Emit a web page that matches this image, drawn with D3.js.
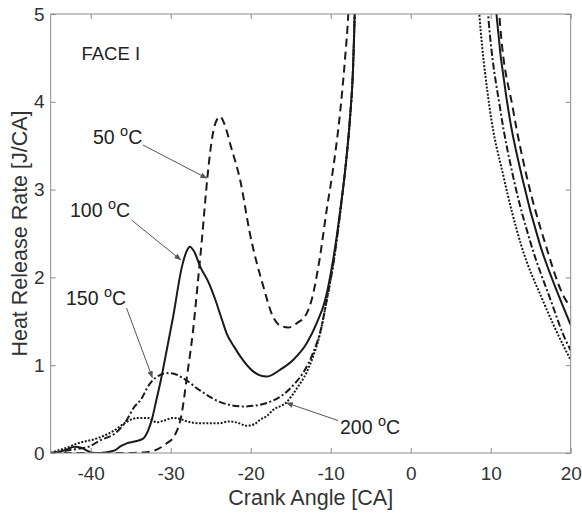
<!DOCTYPE html>
<html>
<head>
<meta charset="utf-8">
<script src="https://cdn.jsdelivr.net/npm/d3@7"></script>
<style>
  html, body { margin: 0; padding: 0; background: #fff; }
  svg { display: block; font-family: "Liberation Sans", Arial, Helvetica, sans-serif; }
</style>
</head>
<body>
<svg id="chart" width="582" height="513"></svg>
<script>
// Heat release rate vs crank angle, FACE I fuel at four intake temperatures.
// Each series is split into a pre-TDC branch and a post-TDC branch; the
// main combustion peak in between runs far above the plotted range.

const xTicks = [-40, -30, -20, -10, 0, 10, 20];
const yTicks = [0, 1, 2, 3, 4, 5];

// 50 °C (dashed)
const t50Before = [[-45,0],[-40,0],[-35.5,0],[-33,0.01],[-31.5,0.05],[-30.5,0.11],[-29.5,0.2],[-28.6,0.46],
  [-28.0,0.85],[-27.2,1.4],[-26.6,1.95],[-26.1,2.43],[-25.4,3.15],[-24.8,3.6],[-24.2,3.8],[-23.8,3.83],
  [-23.3,3.75],[-22.5,3.5],[-21.3,3.1],[-20.1,2.5],[-18.4,1.89],[-17.2,1.55],[-16.3,1.45],[-15.3,1.43],
  [-14.2,1.48],[-13.0,1.59],[-12.4,1.74],[-11.4,2.2],[-10.5,2.77],[-9.6,3.3],[-8.8,3.9],[-8.2,4.5],
  [-7.8,5.0],[-7.6,5.4]];
const t50After = [[10.8,5.4],[11.1,4.97],[12.8,3.91],[14.5,3.15],[16.8,2.39],[19.2,1.77],[20,1.66]];

// 100 °C (solid)
const t100Before = [[-45,0],[-44,0.01],[-43,0.04],[-42,0.07],[-41.2,0.06],[-40.3,0.02],[-39.5,0],[-38,0.01],
  [-37,0.03],[-36.2,0.08],[-35.5,0.11],[-34.5,0.13],[-33.5,0.16],[-32.8,0.26],[-32.3,0.4],[-31.8,0.6],
  [-31.3,0.8],[-30.5,1.17],[-29.7,1.55],[-28.6,2.12],[-28.0,2.3],[-27.6,2.35],[-27.1,2.3],[-26.3,2.12],
  [-25.2,1.93],[-24.4,1.74],[-23.6,1.52],[-23.0,1.36],[-22.0,1.2],[-21.3,1.1],[-19.7,0.93],[-18.0,0.87],
  [-16.3,0.95],[-14.7,1.06],[-13.0,1.25],[-11.75,1.48],[-10.7,1.74],[-9.7,2.2],[-8.8,2.77],[-8.1,3.3],
  [-7.6,3.8],[-7.2,4.4],[-7.0,5.0],[-6.9,5.4]];
const t100After = [[10.4,5.4],[10.75,4.97],[12.2,3.91],[13.9,3.15],[16.1,2.39],[18.6,1.77],[20,1.46]];

// 150 °C (dash-dot)
const t150Before = [[-45,0],[-44,0.01],[-42.8,0.03],[-41.5,0.05],[-40.3,0.07],[-38.7,0.15],[-37,0.22],
  [-35.75,0.34],[-34.5,0.53],[-33.8,0.6],[-32.6,0.79],[-31.3,0.89],[-30.5,0.91],[-29.5,0.9],[-28.4,0.85],
  [-26.3,0.71],[-23.8,0.58],[-20.9,0.53],[-18.0,0.57],[-16.0,0.66],[-14.5,0.79],[-13.4,0.92],[-12.2,1.14],
  [-11.2,1.42],[-10.5,1.74],[-9.6,2.2],[-8.8,2.75],[-8.1,3.3],[-7.6,3.8],[-7.2,4.4],[-7.0,5.0],[-6.9,5.4]];
const t150After = [[9.35,5.4],[9.7,4.97],[11.2,3.91],[12.8,3.15],[15.0,2.39],[17.5,1.74],[19.3,1.3],[20,1.17]];

// 200 °C (dotted)
const t200Before = [[-45,0],[-44.7,0.01],[-43,0.06],[-41.6,0.11],[-39.1,0.17],[-37,0.26],[-35.75,0.34],
  [-34.7,0.39],[-34.1,0.4],[-32.8,0.4],[-31.75,0.35],[-30.8,0.37],[-29.7,0.4],[-28.9,0.39],[-28.0,0.36],
  [-26.5,0.34],[-25.5,0.34],[-24,0.34],[-22.6,0.36],[-21.5,0.34],[-20.5,0.31],[-19.5,0.33],[-18.8,0.38],
  [-18,0.42],[-17.2,0.49],[-15.5,0.58],[-14.2,0.74],[-13,0.92],[-12.2,1.1],[-11.3,1.37],[-10.5,1.74],
  [-9.6,2.2],[-8.8,2.75],[-8.1,3.3],[-7.6,3.8],[-7.2,4.4],[-7.0,5.0],[-6.9,5.4]];
const t200After = [[8.25,5.4],[8.6,4.97],[9.9,3.91],[11.6,3.15],[13.8,2.37],[16.5,1.74],[19.1,1.22],[20,1.06]];

const seriesNames = ["50 °C", "100 °C", "150 °C", "200 °C"];
const seriesDash = ["8,5", null, "7,2.5,2,2.5", "2,1.6"];
const seriesBranches = [[t50Before, t50After], [t100Before, t100After], [t150Before, t150After], [t200Before, t200After]];

const svg = d3.select("#chart");
const W = 582, H = 513;
const plotL = 50.7, plotR = 570.7, plotT = 14, plotB = 453;

const x = d3.scaleLinear().domain([-45, 20]).range([plotL, plotR]);
const y = d3.scaleLinear().domain([0, 5]).range([plotB, plotT]);

svg.append("rect").attr("width", W).attr("height", H).attr("fill", "#fff");

const defs = svg.append("defs");
defs.append("clipPath").attr("id", "plotClip")
  .append("rect").attr("x", plotL).attr("y", plotT).attr("width", plotR - plotL).attr("height", plotB - plotT);

defs.append("marker")
  .attr("id", "arrowHead").attr("viewBox", "0 0 10 10").attr("refX", 9).attr("refY", 5)
  .attr("markerWidth", 7).attr("markerHeight", 7).attr("orient", "auto-start-reverse")
  .attr("markerUnits", "userSpaceOnUse")
  .append("path").attr("d", "M0,1 L10,5 L0,9 Z").attr("fill", "#555");

// Curves
const line = d3.line().x(d => x(d[0])).y(d => y(d[1])).curve(d3.curveMonotoneX);
const curves = svg.append("g").attr("clip-path", "url(#plotClip)");
seriesBranches.forEach((branches, i) => {
  branches.forEach(pts => {
    curves.append("path")
      .attr("d", line(pts))
      .attr("fill", "none")
      .attr("stroke", "#1a1a1a")
      .attr("stroke-width", 2)
      .attr("stroke-dasharray", seriesDash[i]);
  });
});

// Axes box with inward ticks on all sides
const axisColor = "#8a8a8a";
const tickLen = 5;
const axisG = svg.append("g");
axisG.append("rect").attr("x", plotL).attr("y", plotT).attr("width", plotR - plotL).attr("height", plotB - plotT)
  .attr("fill", "none").attr("stroke", axisColor).attr("stroke-width", 1);

const xAxisB = d3.axisBottom(x).tickValues(xTicks).tickSizeInner(-tickLen).tickSizeOuter(0).tickPadding(13.5).tickFormat(d3.format("d"));
const xAxisT = d3.axisTop(x).tickValues(xTicks).tickSizeInner(-tickLen).tickSizeOuter(0).tickFormat("");
const yAxisL = d3.axisLeft(y).tickValues(yTicks).tickSizeInner(-tickLen).tickSizeOuter(0).tickPadding(6).tickFormat(d3.format("d"));
const yAxisR = d3.axisRight(y).tickValues(yTicks).tickSizeInner(-tickLen).tickSizeOuter(0).tickFormat("");

function styleAxis(g) {
  g.select(".domain").remove();
  g.selectAll(".tick line").attr("stroke", axisColor);
  g.selectAll(".tick text").attr("fill", "#333").attr("font-size", 19)
    .attr("font-family", "'Liberation Sans', Arial, sans-serif");
}
axisG.append("g").attr("transform", `translate(0,${plotB})`).call(xAxisB).call(styleAxis);
axisG.append("g").attr("transform", `translate(0,${plotT})`).call(xAxisT).call(styleAxis);
axisG.append("g").attr("transform", `translate(${plotL},0)`).call(yAxisL).call(styleAxis);
axisG.append("g").attr("transform", `translate(${plotR},0)`).call(yAxisR).call(styleAxis);
axisG.selectAll(".tick text").text(function() { return d3.select(this).text().replace("−", "-"); });

// Axis titles
svg.append("text").attr("x", (plotL + plotR) / 2).attr("y", 504.5).attr("text-anchor", "middle")
  .attr("font-size", 21.5).attr("fill", "#333").text("Crank Angle [CA]");
svg.append("text").attr("transform", `translate(26.5,${(plotT + plotB) / 2}) rotate(-90)`)
  .attr("text-anchor", "middle").attr("font-size", 21.5).attr("fill", "#333").text("Heat Release Rate [J/CA]");

// Panel label
svg.append("text").attr("x", 81.5).attr("y", 59.5).attr("font-size", 18.5).attr("fill", "#222").text("FACE I");

// Temperature callouts: label position, arrow start, arrow tip on the curve (data units)
const callouts = [
  { name: seriesNames[0], tx: 93, ty: 143.5, from: [143, 145], to: [-25.5, 3.13] },
  { name: seriesNames[1], tx: 70, ty: 217, from: [131.5, 220], to: [-28.75, 2.2] },
  { name: seriesNames[2], tx: 66, ty: 305, from: [126.5, 308], to: [-32.3, 0.86] },
  { name: seriesNames[3], tx: 340, ty: 433.5, from: [338, 420.5], to: [-15.5, 0.57] }
];
callouts.forEach(c => {
  const num = c.name.split(" ")[0];
  const t = svg.append("text").attr("x", c.tx).attr("y", c.ty).attr("font-size", 19.5).attr("fill", "#222");
  t.append("tspan").text(num + " ");
  t.append("tspan").attr("dy", -8).attr("font-size", 14.5).text("o");
  t.append("tspan").attr("dy", 8).text("C");
  svg.append("line")
    .attr("x1", c.from[0]).attr("y1", c.from[1])
    .attr("x2", x(c.to[0])).attr("y2", y(c.to[1]))
    .attr("stroke", "#555").attr("stroke-width", 1)
    .attr("marker-end", "url(#arrowHead)");
});
</script>
</body>
</html>
